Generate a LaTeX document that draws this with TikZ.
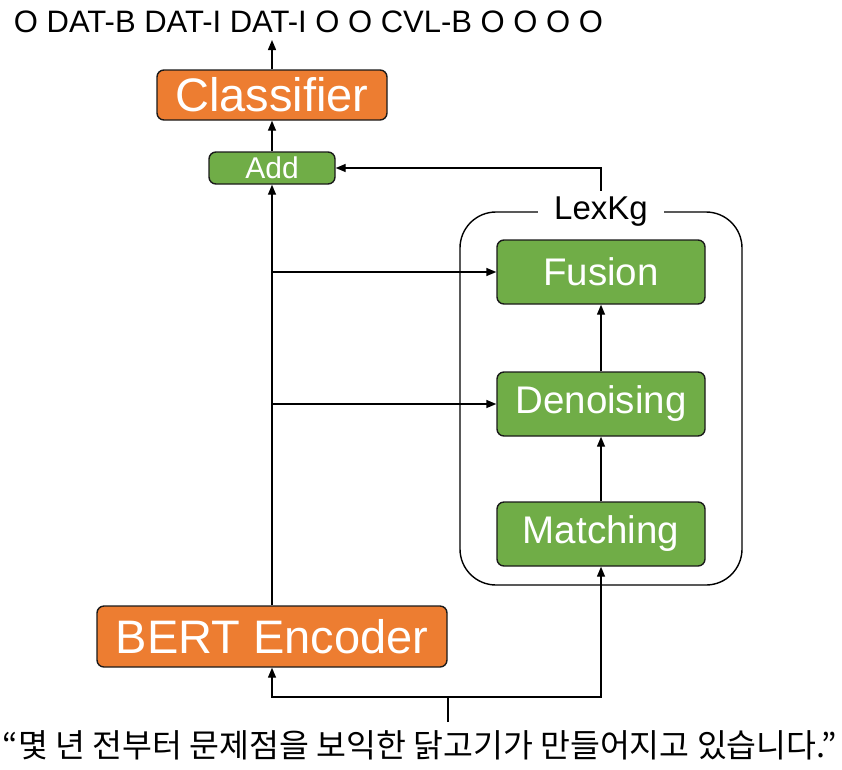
\documentclass[tikz,border=0pt]{standalone}
\usepackage{fontspec}
\setmainfont{Liberation Sans}
\newfontfamily\krfont{Noto Sans CJK KR}
\usetikzlibrary{arrows.meta}
\definecolor{orangebox}{HTML}{ED7D31}
\definecolor{greenbox}{HTML}{70AD47}
\definecolor{edge}{HTML}{1A1A1A}
\tikzset{
  box/.style={draw=edge, line width=1.4pt, rounded corners=7pt, text=white, inner sep=0pt, align=center},
  obox/.style={box, fill=orangebox, font=\fontsize{47}{50}\selectfont},
  gbox/.style={box, fill=greenbox, font=\fontsize{38.5}{42}\selectfont, minimum width=208pt, minimum height=64pt},
  arr/.style={line width=1.4pt, draw=black, -{Triangle[length=10pt,width=8pt]}},
  ln/.style={line width=1.4pt, draw=black}
}
\begin{document}
\begin{tikzpicture}[x=1pt,y=-1pt]
\useasboundingbox (0,0) rectangle (842,769);
% output tags
\node[font=\fontsize{31}{34}\selectfont, inner sep=0pt, anchor=center] (tags) at (308.5,22) {O DAT-B DAT-I DAT-I O O CVL-B O O O O};
\coordinate (tagsin) at (272,40);
% main column
\node[obox, minimum width=230pt, minimum height=50pt] (cls) at (272,95) {Classifier};
\node[box, fill=greenbox, font=\fontsize{30}{33}\selectfont, minimum width=126pt, minimum height=32pt] (add) at (272,168) {Add};
\node[obox, minimum width=350pt, minimum height=61pt] (bert) at (272,636.5) {BERT Encoder};
% LexKg group
\draw[ln, rounded corners=36pt] (460,212) rectangle (742,585);
\node[fill=white, font=\fontsize{33}{36}\selectfont, inner sep=0pt, minimum width=126pt, minimum height=42pt] (lex) at (601,212) {LexKg};
\node[gbox] (fus) at (601,272) {Fusion};
\node[gbox] (den) at (601,404) {Denoising};
\node[gbox] (mat) at (601,534) {Matching};
% sentence
\node[font=\krfont\fontsize{32.5}{36}\selectfont, inner sep=0pt] (sent) at (420,745) {“몇 년 전부터 문제점을 보익한 닭고기가 만들어지고 있습니다.”};
\coordinate (sentin) at (448,722);
\coordinate (split) at (448,697);
% connectors
\draw[arr] (cls.north) -- (tagsin);
\draw[arr] (add.north) -- (cls.south);
\draw[arr] (bert.north) -- (add.south);
\draw[arr] (bert.north |- fus.west) -- (fus.west);
\draw[arr] (bert.north |- den.west) -- (den.west);
\draw[arr] (mat.north) -- (den.south);
\draw[arr] (den.north) -- (fus.south);
\draw[arr] (lex.north) |- (add.east);
\draw[ln] (sentin) -- (split);
\draw[arr] (split) -| (bert.south);
\draw[arr] (split) -| (mat.south);
\end{tikzpicture}
\end{document}
